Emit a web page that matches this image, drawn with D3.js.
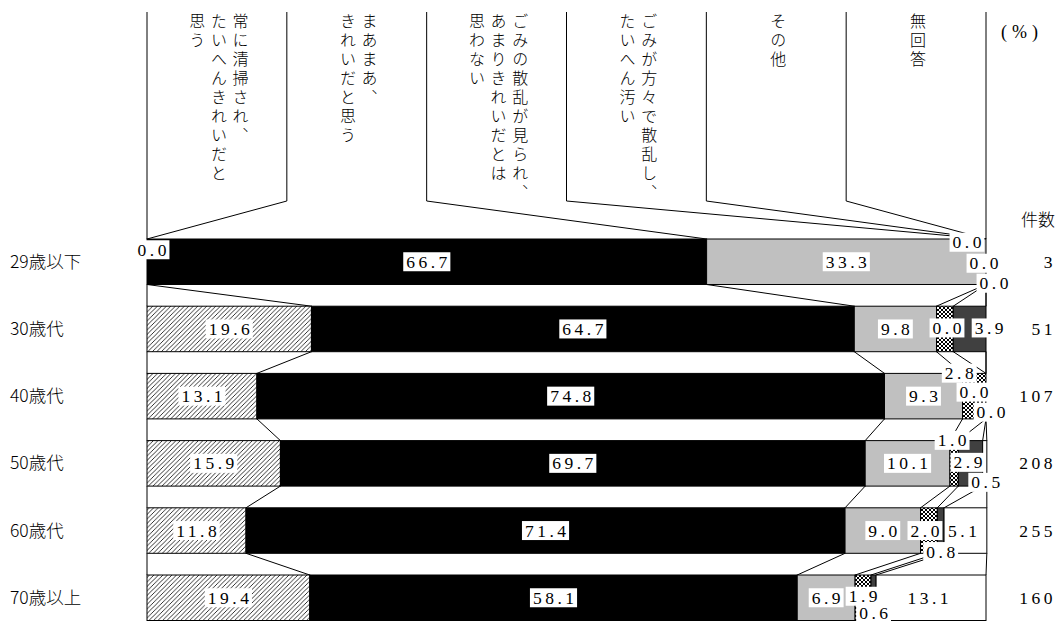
<!DOCTYPE html>
<html><head><meta charset="utf-8">
<script src="https://cdn.jsdelivr.net/npm/d3@7/dist/d3.min.js"></script>
<style>body{margin:0;background:#fff} svg{display:block}</style>
</head><body>
<svg id="c" width="1062" height="622"></svg>
<script>
// ---------------- data ----------------
const categories = ["29歳以下", "30歳代", "40歳代", "50歳代", "60歳代", "70歳以上"];
const seriesNames = [
  "常に清掃され、たいへんきれいだと思う",
  "まあまあ、きれいだと思う",
  "ごみの散乱が見られ、あまりきれいだとは思わない",
  "ごみが方々で散乱し、たいへん汚い",
  "その他",
  "無回答"
];
const headerLines = [
  ["常に清掃され、", "たいへんきれいだと", "思う"],
  ["まあまあ、", "きれいだと思う"],
  ["ごみの散乱が見られ、", "あまりきれいだとは", "思わない"],
  ["ごみが方々で散乱し、", "たいへん汚い"],
  ["その他"],
  ["無回答"]
];
const s1 = [0.0, 19.6, 13.1, 15.9, 11.8, 19.4];
const s2 = [66.7, 64.7, 74.8, 69.7, 71.4, 58.1];
const s3 = [33.3, 9.8, 9.3, 10.1, 9.0, 6.9];
const s4 = [0.0, 2.0, 2.8, 1.0, 2.0, 1.9];
const s5 = [0.0, 3.9, 0.0, 2.9, 0.8, 0.6];
const s6 = [0.0, 0.0, 0.0, 0.5, 5.1, 13.1];
const counts = [3, 51, 107, 208, 255, 160];

// ---------------- layout ----------------
const W = 1062, H = 622;
const fills = ["url(#hatch)", "#000000", "#c0c0c0", "url(#cross)", "#404040", "#ffffff"];
// label nudges (dx, dy) keyed row-series; "hide" hides the label
const labelNudge = {
  "0-0": [5, -12], "0-3": [-19, -19.5], "0-4": [-2, 1.5], "0-5": [8, 21.5],
  "1-3": "hide", "1-4": [19.5, -1], "1-5": [-39, -1],
  "2-3": [-15, -23], "2-4": [-12, -4], "2-5": [5, 16],
  "3-3": [-2, -23], "3-4": [-2.5, -1], "3-5": [1, 19],
  "4-3": [-4, 0], "4-4": [0, 21], "4-5": [-3, 0],
  "5-3": [0, -1.5], "5-4": [0, 15], "5-5": [-3, 0]
};

const keys = seriesNames;
const table = categories.map((c, i) => {
  const o = {cat: c};
  [s1, s2, s3, s4, s5, s6].forEach((s, k) => o[keys[k]] = s[i]);
  return o;
});
const stack = d3.stack().keys(keys)(table);

const x = d3.scaleLinear().domain([0, 100]).range([147, 986]);
const y = d3.scaleBand().domain(categories).range([239, 620.5]).paddingInner(0.323).paddingOuter(0);
const bw = y.bandwidth();

const svg = d3.select("#c");
svg.append("rect").attr("width", W).attr("height", H).attr("fill", "#fff");
const defs = svg.append("defs");
const hp = defs.append("pattern").attr("id", "hatch").attr("patternUnits", "userSpaceOnUse")
  .attr("width", 4.5).attr("height", 4.5);
hp.append("rect").attr("width", 4.5).attr("height", 4.5).attr("fill", "#fff");
hp.append("path").attr("d", "M-1,1 l2,-2 M0,4.5 l4.5,-4.5 M3.5,5.5 l2,-2")
  .attr("stroke", "#000").attr("stroke-width", 0.8);
const cp = defs.append("pattern").attr("id", "cross").attr("patternUnits", "userSpaceOnUse")
  .attr("width", 4).attr("height", 4);
cp.append("rect").attr("width", 4).attr("height", 4).attr("fill", "#fff");
cp.append("path").attr("d", "M0,0 L4,4 M4,0 L0,4").attr("stroke", "#000").attr("stroke-width", 1);

// cumulative boundaries per row
const bounds = categories.map((c, i) => [0].concat(stack.map(s => s[i][1])));

// ---- connector lines between bars ----
const gLines = svg.append("g").attr("stroke", "#000").attr("stroke-width", 1).attr("fill", "none");
for (let i = 0; i < categories.length - 1; i++) {
  for (let k = 0; k <= 6; k++) {
    gLines.append("line")
      .attr("x1", x(bounds[i][k])).attr("y1", y(categories[i]) + bw)
      .attr("x2", x(bounds[i + 1][k])).attr("y2", y(categories[i + 1]));
  }
}
// ---- header lines ----
const hTop = 12, hBot = 201, firstTop = y(categories[0]);
for (let k = 0; k <= 6; k++) {
  const xk = x(k * 100 / 6);
  if (k === 0 || k === 6) {
    gLines.append("line").attr("x1", xk).attr("y1", hTop).attr("x2", xk).attr("y2", firstTop);
  } else {
    gLines.append("path").attr("d", `M${xk},${hTop} L${xk},${hBot} L${x(bounds[0][k])},${firstTop}`);
  }
}
// ---- header texts (vertical) ----
const gHead = svg.append("g").attr("font-family", "'Noto Sans CJK JP', sans-serif")
  .attr("font-size", 16).attr("font-weight", 300).attr("fill", "#000");
headerLines.forEach((lines, k) => {
  const cx = x((k + 0.5) * 100 / 6) + 2;
  const n = lines.length;
  lines.forEach((ln, j) => {
    const lx = cx + ((n - 1) / 2 - j) * 21.7;
    gHead.append("text").attr("x", lx).attr("y", 13)
      .style("writing-mode", "vertical-rl").style("letter-spacing", "3px")
      .text(ln);
  });
});

// ---- bars ----
const gBars = svg.append("g");
stack.forEach((s, k) => {
  gBars.selectAll(null).data(s).enter().append("rect")
    .attr("x", d => x(d[0])).attr("y", d => y(d.data.cat))
    .attr("width", d => Math.max(0, x(d[1]) - x(d[0]))).attr("height", bw)
    .attr("fill", fills[k]).attr("stroke", "#000").attr("stroke-width", 1);
});

// ---- value labels ----
const LS = 3.5;
const gLab = svg.append("g").attr("font-family", "'Liberation Serif', serif").attr("font-size", 17.5);
stack.forEach((s, k) => {
  s.forEach((d, i) => {
    const nudge = labelNudge[i + "-" + k];
    if (nudge === "hide") return;
    const [dx, dy] = nudge || [0, 0];
    const cx = x((d[0] + d[1]) / 2) + dx;
    const cy = y(d.data.cat) + bw / 2 + dy;
    const g = gLab.append("g");
    const t = g.append("text").attr("x", cx + LS / 2).attr("y", cy).attr("dy", "0.35em")
      .attr("text-anchor", "middle").style("letter-spacing", LS + "px")
      .text((d[1] - d[0]).toFixed(1));
    const bb = t.node().getBBox();
    g.insert("rect", "text").attr("x", bb.x - 3).attr("y", cy - 9.5)
      .attr("width", bb.width - LS + 6).attr("height", 19).attr("fill", "#fff");
  });
});

// ---- category labels ----
svg.append("g").selectAll("text").data(categories).enter().append("text")
  .attr("x", 10).attr("y", d => y(d) + bw / 2).attr("dy", "0.35em")
  .attr("font-family", "'Noto Sans CJK JP', sans-serif").attr("font-size", 17.5).attr("font-weight", 300)
  .text(d => d);

// ---- counts ----
svg.append("g").selectAll("text").data(counts).enter().append("text")
  .attr("x", 1056).attr("y", (d, i) => y(categories[i]) + bw / 2).attr("dy", "0.35em")
  .attr("text-anchor", "end").attr("font-family", "'Liberation Serif', serif")
  .attr("font-size", 17.5).style("letter-spacing", "3.5px").text(d => d);

svg.append("text").attr("x", 1038).attr("y", 220).attr("dy", "0.35em").attr("text-anchor", "middle")
  .attr("font-family", "'Noto Sans CJK JP', sans-serif").attr("font-size", 17).attr("font-weight", 300).text("件数");
svg.append("text").attr("x", 1022).attr("y", 32).attr("dy", "0.35em").attr("text-anchor", "middle")
  .attr("font-family", "'Liberation Serif', serif").attr("font-size", 18).style("letter-spacing", "5px").text("(%)");
</script>
</body></html>
